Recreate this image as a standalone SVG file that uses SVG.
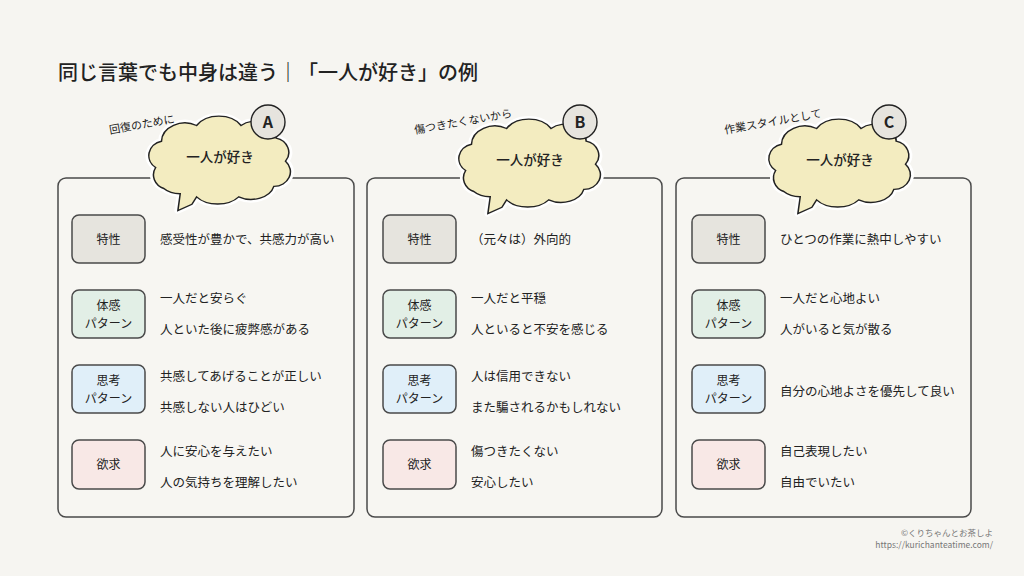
<svg xmlns="http://www.w3.org/2000/svg" width="1024" height="576" viewBox="0 0 1024 576">
<style>
text{font-family:"Noto Sans CJK JP","Noto Sans",sans-serif;fill:#222}
.panel{fill:#f7f6f2;stroke:#4a4a4a;stroke-width:1.5}
.lbl{stroke:#4a4a4a;stroke-width:1.5}
.t1{fill:#e6e4de}.t2{fill:#e2efe6}.t3{fill:#e0eff9}.t4{fill:#f8e8e6}
.lt{font-size:12px;text-anchor:middle}
.bt{font-size:12.5px}
.cloud{fill:#f3ecc0;stroke:#222;stroke-width:1.3}
.cloudw{fill:none;stroke:#fff;stroke-width:6;stroke-linejoin:round}
.badge{fill:#e6e4de;stroke:#222;stroke-width:1.4}
.cap{font-size:11px}
.ct{font-size:13.5px;text-anchor:middle;font-weight:500}
</style>
<defs>
<path id="cl" d="M -55,10 a 14 14 0 0 1 5,-25 a 20 18 0 0 1 30,-15 a 22 18 0 0 1 38,0 a 18 16 0 0 1 30,12 a 14 14 0 0 1 8,22 a 14 14 0 0 1 -10,24 a 20 16 0 0 1 -30,10 a 22 16 0 0 1 -36,0 L -24,45 L -36,51 L -34,35 a 18 14 0 0 1 -14,-5 a 14 14 0 0 1 -7,-20 Z" transform="scale(1.17 1.05)"/>
</defs>
<rect width="1024" height="576" fill="#f6f5f1"/>
<text x="58" y="80" font-size="20" font-weight="500">同じ言葉でも中身は違う｜「一人が好き」の例</text>
<g id="connectors"/>
<g id="panelA">
<rect class="panel" x="58" y="178" width="296" height="339" rx="8"/>
<rect class="lbl t1" x="72" y="215" width="73" height="48" rx="7"/><text class="lt" x="108.5" y="244">特性</text>
<rect class="lbl t2" x="72" y="290" width="73" height="48" rx="7"/><text class="lt" x="108.5" y="310">体感</text><text class="lt" x="108.5" y="328">パターン</text>
<rect class="lbl t3" x="72" y="365" width="73" height="48" rx="7"/><text class="lt" x="108.5" y="385">思考</text><text class="lt" x="108.5" y="403">パターン</text>
<rect class="lbl t4" x="72" y="440" width="73" height="49" rx="7"/><text class="lt" x="108.5" y="469">欲求</text>
<text class="bt" x="160" y="244">感受性が豊かで、共感力が高い</text>
<text class="bt" x="160" y="303">一人だと安らぐ</text><text class="bt" x="160" y="334">人といた後に疲弊感がある</text>
<text class="bt" x="160" y="381">共感してあげることが正しい</text><text class="bt" x="160" y="412">共感しない人はひどい</text>
<text class="bt" x="160" y="456">人に安心を与えたい</text><text class="bt" x="160" y="487">人の気持ちを理解したい</text>
<g transform="translate(220,157)"><use href="#cl" class="cloudw"/><use href="#cl" class="cloud"/><text class="ct" x="0" y="5">一人が好き</text></g>
<circle class="badge" cx="268" cy="122" r="17"/><text x="268" y="128" font-size="16" text-anchor="middle" font-family="Liberation Sans,sans-serif" font-weight="bold">A</text>
<text class="cap" x="110" y="134" transform="rotate(-10 110 134)">回復のために</text>
</g>
<g id="panelB">
<rect class="panel" x="367" y="178" width="295" height="339" rx="8"/>
<rect class="lbl t1" x="383" y="215" width="73" height="48" rx="7"/><text class="lt" x="419.5" y="244">特性</text>
<rect class="lbl t2" x="383" y="290" width="73" height="48" rx="7"/><text class="lt" x="419.5" y="310">体感</text><text class="lt" x="419.5" y="328">パターン</text>
<rect class="lbl t3" x="383" y="365" width="73" height="48" rx="7"/><text class="lt" x="419.5" y="385">思考</text><text class="lt" x="419.5" y="403">パターン</text>
<rect class="lbl t4" x="383" y="440" width="73" height="49" rx="7"/><text class="lt" x="419.5" y="469">欲求</text>
<text class="bt" x="471" y="244">（元々は）外向的</text>
<text class="bt" x="471" y="303">一人だと平穏</text><text class="bt" x="471" y="334">人といると不安を感じる</text>
<text class="bt" x="471" y="381">人は信用できない</text><text class="bt" x="471" y="412">また騙されるかもしれない</text>
<text class="bt" x="471" y="456">傷つきたくない</text><text class="bt" x="471" y="487">安心したい</text>
<g transform="translate(530,160)"><use href="#cl" class="cloudw"/><use href="#cl" class="cloud"/><text class="ct" x="0" y="5">一人が好き</text></g>
<circle class="badge" cx="580" cy="122" r="17"/><text x="580" y="128" font-size="16" text-anchor="middle" font-family="Liberation Sans,sans-serif" font-weight="bold">B</text>
<text class="cap" x="415" y="134" transform="rotate(-10 415 134)">傷つきたくないから</text>
</g>
<g id="panelC">
<rect class="panel" x="676" y="178" width="295" height="339" rx="8"/>
<rect class="lbl t1" x="692" y="215" width="73" height="48" rx="7"/><text class="lt" x="728.5" y="244">特性</text>
<rect class="lbl t2" x="692" y="290" width="73" height="48" rx="7"/><text class="lt" x="728.5" y="310">体感</text><text class="lt" x="728.5" y="328">パターン</text>
<rect class="lbl t3" x="692" y="365" width="73" height="48" rx="7"/><text class="lt" x="728.5" y="385">思考</text><text class="lt" x="728.5" y="403">パターン</text>
<rect class="lbl t4" x="692" y="440" width="73" height="49" rx="7"/><text class="lt" x="728.5" y="469">欲求</text>
<text class="bt" x="780" y="244">ひとつの作業に熱中しやすい</text>
<text class="bt" x="780" y="303">一人だと心地よい</text><text class="bt" x="780" y="334">人がいると気が散る</text>
<text class="bt" x="780" y="396">自分の心地よさを優先して良い</text>
<text class="bt" x="780" y="456">自己表現したい</text><text class="bt" x="780" y="487">自由でいたい</text>
<g transform="translate(840,160)"><use href="#cl" class="cloudw"/><use href="#cl" class="cloud"/><text class="ct" x="0" y="5">一人が好き</text></g>
<circle class="badge" cx="889" cy="122" r="17"/><text x="889" y="128" font-size="16" text-anchor="middle" font-family="Liberation Sans,sans-serif" font-weight="bold">C</text>
<text class="cap" x="725" y="134" transform="rotate(-10 725 134)">作業スタイルとして</text>
</g>
<text x="993" y="536" font-size="8.5" text-anchor="end" style="fill:#777">©くりちゃんとお茶しよ</text>
<text x="993" y="548" font-size="8.5" text-anchor="end" style="fill:#777">https://kurichanteatime.com/</text>
</svg>
